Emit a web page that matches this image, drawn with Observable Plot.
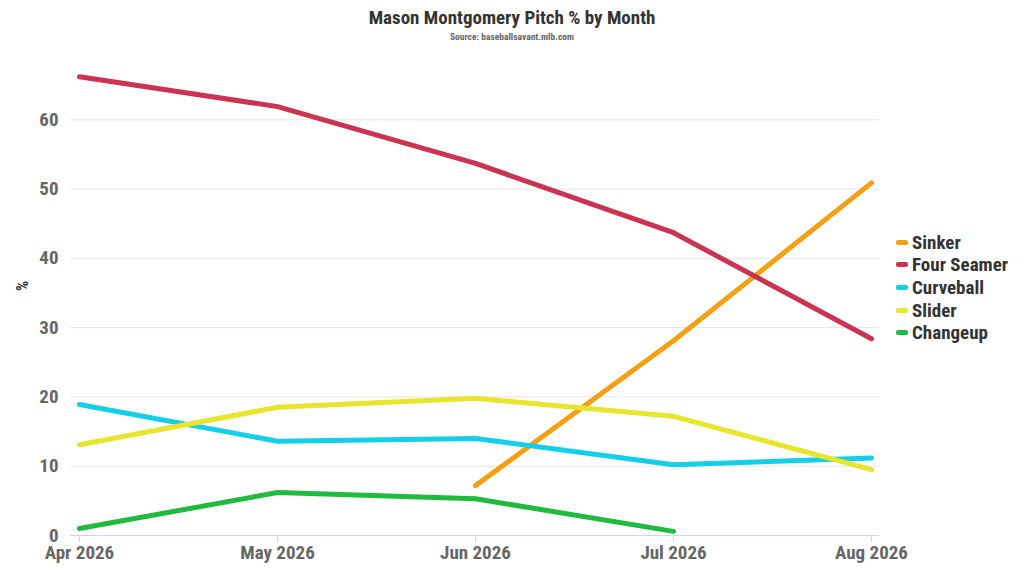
<!DOCTYPE html>
<html>
<head>
<meta charset="utf-8">
<script src="https://cdn.jsdelivr.net/npm/d3@7"></script>
<script src="https://cdn.jsdelivr.net/npm/@observablehq/plot@0.6"></script>
<style>
  html, body { margin: 0; padding: 0; background: #fff; }
  body { width: 1024px; height: 576px; position: relative; overflow: hidden;
         font-family: "Roboto Condensed", "Liberation Sans Narrow", "Roboto", sans-serif; font-weight: bold; }
  #head { height: 48px; text-align: center; }
  #title { padding-top: 6px; font-size: 19px; color: #333; line-height: 23px; }
  #sub { font-size: 9.5px; color: #666; line-height: 12px; margin-top: 2px; }
  #legend { position: absolute; left: 896px; top: 231px; }
  .item { display: flex; align-items: center; height: 22.6px; font-size: 19px; color: #333; }
  .sw { width: 12px; height: 5px; border-radius: 2px; margin-right: 4px; }
</style>
</head>
<body>
<div id="head">
  <div id="title">Mason Montgomery Pitch % by Month</div>
  <div id="sub">Source: baseballsavant.mlb.com</div>
</div>
<div id="chart"></div>
<div id="legend"></div>
<script>
const months = ["Apr 2026", "May 2026", "Jun 2026", "Jul 2026", "Aug 2026"];
const pitches = ["Sinker", "Four Seamer", "Curveball", "Slider", "Changeup"];
const colors = ["#f5a013", "#cc3350", "#13d0e8", "#e8e52c", "#1fbb3e"];
const sinker = [null, null, 7.2, 28.1, 50.9];
const fourSeamer = [66.2, 61.9, 53.7, 43.7, 28.4];
const curveball = [18.9, 13.6, 14.0, 10.2, 11.2];
const slider = [13.1, 18.5, 19.8, 17.2, 9.5];
const changeup = [1.0, 6.2, 5.3, 0.6, null];
const yTicks = [0, 10, 20, 30, 40, 50, 60];

const series = [sinker, fourSeamer, curveball, slider, changeup];
const data = [];
series.forEach((vals, i) => vals.forEach((v, j) => {
  if (v != null) data.push({pitch: pitches[i], month: months[j], value: v});
}));

const chart = Plot.plot({
  width: 1024,
  height: 528,
  marginLeft: 70,
  marginRight: 145,
  marginTop: 2,
  marginBottom: 41,
  style: {fontFamily: "'Roboto Condensed', 'Liberation Sans Narrow', Roboto, sans-serif", fontWeight: "bold"},
  x: {type: "point", domain: months, padding: 0, insetLeft: 7, insetRight: 7, label: null},
  y: {domain: [0, 70], label: null},
  color: {domain: pitches, range: colors},
  marks: [
    Plot.ruleY(yTicks.filter(d => d > 0), {stroke: "#e6e6e6", strokeWidth: 1}),
    Plot.ruleY([0], {stroke: "#ccd6eb", strokeWidth: 1}),
    Plot.axisX({tickSize: 7, stroke: "#ccd6eb", tickPadding: 3, fontSize: 19, fill: "#666", tickFormat: d => d}),
    Plot.axisY({ticks: yTicks, tickSize: 0, tickPadding: 12, fontSize: 19, fill: "#666", label: null}),
    Plot.text(["%"], {frameAnchor: "left", dx: -48, dy: -2, rotate: -90, fontSize: 16, fill: "#333", text: d => d}),
    Plot.lineY(data, {x: "month", y: "value", z: "pitch", stroke: "pitch", strokeWidth: 5, strokeLinecap: "round", strokeLinejoin: "round"})
  ]
});
document.getElementById("chart").appendChild(chart);

const leg = document.getElementById("legend");
pitches.forEach((p, i) => {
  const it = document.createElement("div");
  it.className = "item";
  it.innerHTML = `<span class="sw" style="background:${colors[i]}"></span><span>${p}</span>`;
  leg.appendChild(it);
});
</script>
</body>
</html>
